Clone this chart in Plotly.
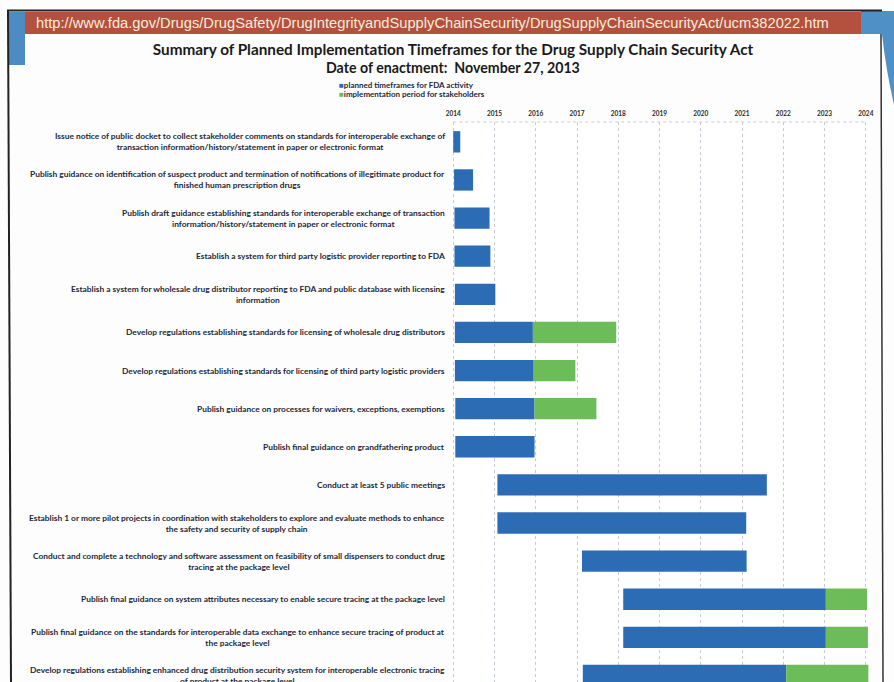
import plotly.graph_objects as go

# ---------------- data ----------------
tasks = [
    "Issue notice of public docket to collect stakeholder comments on standards for interoperable exchange of<br>transaction information/history/statement in paper or electronic format",
    "Publish guidance on identification of suspect product and termination of notifications of illegitimate product for<br>finished human prescription drugs",
    "Publish draft guidance establishing standards for interoperable exchange of transaction<br>information/history/statement in paper or electronic format",
    "Establish a system for third party logistic provider reporting to FDA",
    "Establish a system for wholesale drug distributor reporting to FDA and public database with licensing<br>information",
    "Develop regulations establishing standards for licensing of wholesale drug distributors",
    "Develop regulations establishing standards for licensing of third party logistic providers",
    "Publish guidance on processes for waivers, exceptions, exemptions",
    "Publish final guidance on grandfathering product",
    "Conduct at least 5 public meetings",
    "Establish 1 or more pilot projects in coordination with stakeholders to explore and evaluate methods to enhance<br>the safety and security of supply chain",
    "Conduct and complete a technology and software assessment on feasibility of small dispensers to conduct drug<br>tracing at the package level",
    "Publish final guidance on system attributes necessary to enable secure tracing at the package level",
    "Publish final guidance on the standards for interoperable data exchange to enhance secure tracing of product at<br>the package level",
    "Develop regulations establishing enhanced drug distribution security system for interoperable electronic tracing<br>of product at the package level",
]
fda_start = [2014.0, 2014.02, 2014.03, 2014.03, 2014.04, 2014.04, 2014.04, 2014.05, 2014.05,
             2015.07, 2015.07, 2017.12, 2018.12, 2018.12, 2017.14]
fda_end = [2014.17, 2014.48, 2014.88, 2014.9, 2015.02, 2015.93, 2015.95, 2015.97, 2015.97,
           2021.6, 2021.1, 2021.11, 2023.03, 2023.03, 2022.07]
impl_end = [None, None, None, None, None, 2017.95, 2016.96, 2017.47, None,
            None, None, None, 2024.03, 2024.05, 2024.06]
years = list(range(2014, 2025))
series_names = ["planned timeframes for FDA activity", "implementation period for stakeholders"]

title_text = "Summary of Planned Implementation Timeframes for the Drug Supply Chain Security Act"
subtitle_text = "Date of enactment:  November 27, 2013"
url_text = "http://www.fda.gov/Drugs/DrugSafety/DrugIntegrityandSupplyChainSecurity/DrugSupplyChainSecurityAct/ucm382022.htm"

# ---------------- styling ----------------
W, H = 894, 682
L, R, T, B = 452, 24, 122, 0
PW, PH = W - L - R, H - T - B
BLUE = "#2b6cb4"
GREEN = "#6cbd5a"
TXT = "#1c2838"
FONT = "Lato"
GRID = "#c3ccd8"


def px(xp):
    return (xp - L) / PW


def py(yp):
    return (H - B - yp) / PH


fig = go.Figure()
fig.add_trace(go.Bar(
    y=tasks, base=fda_start, x=[e - s for s, e in zip(fda_start, fda_end)],
    orientation="h", marker=dict(color=BLUE, line=dict(width=0)), name=series_names[0],
    width=0.56,
))
g_y, g_base, g_x = [], [], []
for t, e, ie in zip(tasks, fda_end, impl_end):
    if ie is not None:
        g_y.append(t)
        g_base.append(e)
        g_x.append(ie - e)
fig.add_trace(go.Bar(
    y=g_y, base=g_base, x=g_x, orientation="h",
    marker=dict(color=GREEN, line=dict(width=0)), name=series_names[1], width=0.56,
))

annotations = []
for t in tasks:
    annotations.append(dict(
        x=px(447), xref="paper", y=t, yref="y", xanchor="right", yanchor="middle",
        text=t, align="center", showarrow=False,
        font=dict(family=FONT, size=8.4, color=TXT, weight="bold"),
    ))
# legend (as text)
for name, col, yy in [(series_names[0], BLUE, 85.5), (series_names[1], GREEN, 93.5)]:
    annotations.append(dict(
        x=px(337), xref="paper", y=py(yy), yref="paper", xanchor="left", yanchor="middle",
        text=f"<span style='color:{col}'>■</span>{name}",
        align="left", showarrow=False,
        font=dict(family=FONT, size=8, color=TXT, weight="bold"),
    ))
# subtitle
annotations.append(dict(
    x=px(453), xref="paper", y=py(68), yref="paper", xanchor="center", yanchor="middle",
    text=f"<b>{subtitle_text}</b>", showarrow=False,
    font=dict(family=FONT, size=14.2, color="#1a1a1a"),
))
# banner url
annotations.append(dict(
    x=px(34), xref="paper", y=py(23), yref="paper", xanchor="left", yanchor="middle",
    text=url_text, showarrow=False,
    font=dict(family="Liberation Sans", size=14.7, color="#f6ecdc"),
))

shapes = [
    # red banner
    dict(type="rect", xref="paper", yref="paper", x0=px(24), x1=px(861), y0=py(34), y1=py(12),
         fillcolor="#b4513e", line=dict(width=0), layer="below"),
    # left blue tab
    dict(type="rect", xref="paper", yref="paper", x0=px(8), x1=px(25), y0=py(65), y1=py(12),
         fillcolor="#4c8cc2", line=dict(width=0), layer="below"),
    # right blue region
    dict(type="path", xref="paper", yref="paper",
         path=(f"M {px(861)} {py(11)} L {px(894)} {py(11)} L {px(894)} {py(105)} "
               f"Q {px(886)} {py(70)} {px(882)} {py(34)} L {px(861)} {py(34)} Z"),
         fillcolor="#4f90c6", line=dict(width=0), layer="below"),
    # frame lines
    dict(type="line", xref="paper", yref="paper", x0=px(7), x1=px(882), y0=py(10.5), y1=py(10.5),
         line=dict(color="#222222", width=2)),
    dict(type="line", xref="paper", yref="paper", x0=px(8), x1=px(11), y0=py(10), y1=py(682),
         line=dict(color="#222222", width=2)),
    dict(type="line", xref="paper", yref="paper", x0=px(881), x1=px(883), y0=py(34), y1=py(682),
         line=dict(color="#333333", width=1.5)),
    # plot top border
    dict(type="line", xref="x", yref="paper", x0=2014, x1=2024, y0=1, y1=1,
         line=dict(color=GRID, width=1, dash="dot")),
]

fig.update_layout(
    width=W, height=H,
    margin=dict(l=L, r=R, t=T, b=B, pad=0),
    paper_bgcolor="#fdfdfd", plot_bgcolor="#ffffff",
    barmode="overlay", showlegend=False,
    title=dict(
        text=f"<b>{title_text}</b>",
        x=453 / W, xref="container", xanchor="center",
        y=1 - 50 / H, yref="container", yanchor="middle",
        font=dict(family=FONT, size=15.3, color="#1a1a1a"),
    ),
    xaxis=dict(
        range=[2013.97, 2024.1], side="top", tickvals=years,
        ticktext=[str(y) for y in years],
        showgrid=True, gridcolor=GRID, gridwidth=1, griddash="dot",
        zeroline=False, showline=False, ticks="", ticklabelstandoff=4,
        tickfont=dict(family=FONT, size=6.5, color="#2a2a2a", weight="bold"),
    ),
    yaxis=dict(
        type="category", categoryorder="array", categoryarray=tasks,
        range=[14.17, -0.52], showticklabels=False, showgrid=False, zeroline=False,
    ),
    annotations=annotations,
    shapes=shapes,
)

fig.write_html("out.html", config={"displayModeBar": False},
               post_script="document.body.style.margin='0';")
